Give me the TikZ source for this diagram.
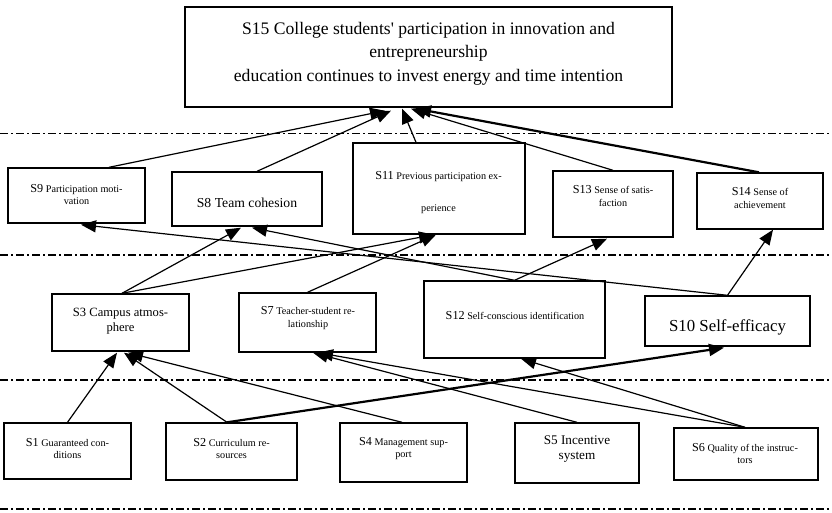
\documentclass[tikz,border=0pt]{standalone}
\usepackage{fontspec}
\setmainfont{Liberation Serif}
\usetikzlibrary{arrows.meta}
\newcommand\pfx[1]{{\fontsize{12.2}{14}\selectfont #1}}
\begin{document}
\begin{tikzpicture}[x=1pt,y=-1pt,
  box/.style={draw,line width=1.4pt,inner sep=0pt},
  txt/.style={align=center,inner sep=0pt,font=\fontsize{10.2}{12.5}\selectfont},
  arr/.style={-{Triangle[length=15pt,width=12pt]},line width=1.2pt},
  tarr/.style={-{Triangle[length=15pt,width=12pt]},line width=2.2pt},
  sepline/.style={line width=1.3pt,dash pattern=on 8pt off 3pt on 2pt off 3pt}]
\useasboundingbox (0,0) rectangle (832,512);
% separators
\coordinate (l1a) at (0,133.5); \coordinate (l1b) at (832,133.5);
\coordinate (l2a) at (0,255); \coordinate (l2b) at (832,255);
\coordinate (l3a) at (0,380); \coordinate (l3b) at (832,380);
\coordinate (l4a) at (0,509); \coordinate (l4b) at (832,509);
\draw[sepline] (l1a) -- (l1b);
\draw[sepline] (l2a) -- (l2b);
\draw[sepline] (l3a) -- (l3b);
\draw[sepline] (l4a) -- (l4b);
% boxes
\node[box,minimum width=487pt,minimum height=100pt] (s15) at (428.5,57) {};
\node[box,minimum width=137pt,minimum height=55pt] (s9) at (76.5,195.5) {};
\node[box,minimum width=150pt,minimum height=54pt] (s8) at (247,199) {};
\node[box,minimum width=172pt,minimum height=91pt] (s11) at (439,188.5) {};
\node[box,minimum width=120pt,minimum height=66pt] (s13) at (613,204) {};
\node[box,minimum width=126pt,minimum height=56pt] (s14) at (760,201) {};
\node[box,minimum width=137pt,minimum height=57pt] (s3) at (120.5,322.5) {};
\node[box,minimum width=137pt,minimum height=59pt] (s7) at (307.5,322.5) {};
\node[box,minimum width=181pt,minimum height=77pt] (s12) at (514.5,319.5) {};
\node[box,minimum width=165pt,minimum height=50pt] (s10) at (727.5,321) {};
\node[box,minimum width=127pt,minimum height=56pt] (s1) at (67.5,451) {};
\node[box,minimum width=131pt,minimum height=57pt] (s2) at (231.5,451.5) {};
\node[box,minimum width=127pt,minimum height=59pt] (s4) at (403.5,452.5) {};
\node[box,minimum width=124pt,minimum height=60pt] (s5) at (577,453) {};
\node[box,minimum width=144pt,minimum height=52pt] (s6) at (746,454) {};
% texts
\node[align=center,inner sep=0pt,font=\fontsize{17.6}{23.5}\selectfont] (t15) at (428.5,53.5)
  {S15 College students\textquotesingle{} participation in innovation and\\entrepreneurship\\education continues to invest energy and time intention};
\node[txt] (t9) at (76.5,194.5) {\pfx{S9} Participation moti-\\vation};
\node[font=\fontsize{13.7}{16}\selectfont,inner sep=0pt] (t8) at (247,203) {S8 Team cohesion};
\node[txt] (t11a) at (438.5,177) {\pfx{S11} Previous participation ex-};
\node[txt] (t11b) at (438.5,209) {perience};
\node[txt] (t13) at (613,196) {\pfx{S13} Sense of satis-\\faction};
\node[txt] (t14) at (760,198) {\pfx{S14} Sense of\\achievement};
\node[align=center,inner sep=0pt,font=\fontsize{12.6}{14.5}\selectfont] (t3) at (120.5,321) {S3 Campus atmos-\\phere};
\node[txt] (t7) at (308,318) {\pfx{S7} Teacher-student re-\\lationship};
\node[txt] (t12) at (515,316) {\pfx{S12} Self-conscious identification};
\node[font=\fontsize{16.8}{19}\selectfont,inner sep=0pt] (t10) at (727.5,327) {S10 Self-efficacy};
\node[txt] (t1) at (67.5,448.5) {\pfx{S1} Guaranteed con-\\ditions};
\node[txt] (t2) at (231.5,448.5) {\pfx{S2} Curriculum re-\\sources};
\node[txt] (t4) at (403.5,448.5) {\pfx{S4} Management sup-\\port};
\node[align=center,inner sep=0pt,font=\fontsize{13.2}{15}\selectfont] (t5) at (577,449.5) {S5 Incentive\\system};
\node[txt] (t6) at (745,453.5) {\pfx{S6} Quality of the instruc-\\tors};
% connectors into S15
\draw[arr] ([xshift=32.5pt]s9.north) -- ([xshift=-43.5pt,yshift=-3pt]s15.south);
\draw[arr] ([xshift=10pt]s8.north) -- ([xshift=-37.5pt,yshift=-3pt]s15.south);
\draw[arr] ([xshift=-23pt]s11.north) -- ([xshift=-26.5pt,yshift=-1pt]s15.south);
\draw[arr] (s13.north) -- ([xshift=-17.5pt,yshift=-1pt]s15.south);
\draw[tarr] ([xshift=-1pt]s14.north) -- ([xshift=-12.5pt,yshift=-1pt]s15.south);
% middle band
\draw[arr] ([xshift=1.5pt]s3.north) -- ([xshift=-6pt,yshift=-1pt]s8.south);
\draw[arr] ([xshift=1.5pt]s3.north) -- ([xshift=-5pt]s11.south);
\draw[arr] (s7.north) -- ([xshift=-3pt]s11.south);
\draw[arr] (s12.north) -- ([xshift=5pt,yshift=-1pt]s8.south);
\draw[arr] (s12.north) -- ([xshift=-6pt,yshift=-1pt]s13.south);
\draw[arr] (s10.north) -- ([xshift=4.5pt,yshift=-1pt]s9.south);
\draw[arr] (s10.north) -- ([xshift=13pt]s14.south);
% bottom band
\draw[arr] (s1.north) -- ([xshift=-3.5pt,yshift=-1pt]s3.south);
\draw[arr] ([xshift=-4.5pt]s2.north) -- ([xshift=3.5pt,yshift=-1pt]s3.south);
\draw[arr] ([xshift=-1.5pt]s4.north) -- ([xshift=7.5pt,yshift=-1pt]s3.south);
\draw[tarr] ([xshift=-4.5pt]s2.north) -- ([xshift=-3.5pt,yshift=-1pt]s10.south);
\draw[arr] (s5.north) -- ([xshift=5.5pt]s7.south);
\draw[arr] ([xshift=-1pt]s6.north) -- ([xshift=10.5pt]s7.south);
\draw[arr] ([xshift=-1pt]s6.north) -- ([xshift=6.5pt]s12.south);
\end{tikzpicture}
\end{document}
